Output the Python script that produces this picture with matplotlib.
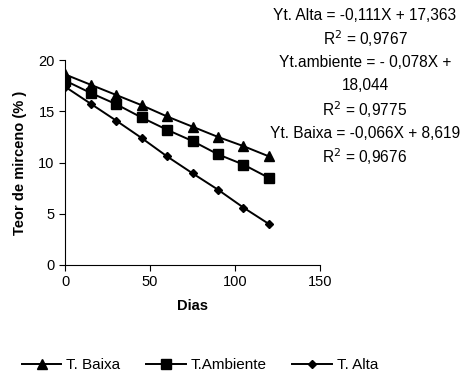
import matplotlib.pyplot as plt

plt.rcParams["font.family"] = ["Liberation Sans", "DejaVu Sans"]

dias = [0, 15, 30, 45, 60, 75, 90, 105, 120]
t_baixa = [18.6, 17.6, 16.6, 15.6, 14.5, 13.5, 12.5, 11.6, 10.6]
t_ambiente = [18.0, 16.8, 15.7, 14.4, 13.2, 12.1, 10.8, 9.8, 8.5]
t_alta = [17.4, 15.75, 14.1, 12.4, 10.6, 8.95, 7.35, 5.6, 4.0]

eq_lines = [
    "Yt. Alta = -0,111X + 17,363",
    "R$^2$ = 0,9767",
    "Yt.ambiente = - 0,078X +",
    "18,044",
    "R$^2$ = 0,9775",
    "Yt. Baixa = -0,066X + 8,619",
    "R$^2$ = 0,9676",
]

fig = plt.figure(figsize=(4.65, 3.78), dpi=100)
ax = fig.add_axes([0.140, 0.299, 0.548, 0.542])

ax.plot(dias, t_baixa, color="black", lw=1.4, marker="^", ms=7, label="T. Baixa")
ax.plot(dias, t_ambiente, color="black", lw=1.4, marker="s", ms=7, label="T.Ambiente")
ax.plot(dias, t_alta, color="black", lw=1.4, marker="D", ms=4, label="T. Alta")

ax.set_xlim(0, 150)
ax.set_ylim(0, 20)
ax.set_xticks([0, 50, 100, 150])
ax.set_yticks([0, 5, 10, 15, 20])
ax.spines["top"].set_visible(False)
ax.spines["right"].set_visible(False)
ax.tick_params(labelsize=10.5, length=4, direction="out")
ax.set_xlabel("Dias", fontsize=10.5, fontweight="bold", labelpad=7)
ax.set_ylabel("Teor de mirceno (% )", fontsize=10.5, fontweight="bold", labelpad=8)

for i, line in enumerate(eq_lines):
    fig.text(365 / 465, 1 - (15 + i * 23.6) / 378, line, ha="center", va="center", fontsize=11.2)

fig.legend(loc="center", bbox_to_anchor=(0.43, 1 - 365 / 378), ncol=3, frameon=False,
           fontsize=11, handlelength=2.6, columnspacing=1.7, handletextpad=0.3)

fig.savefig("out.png", dpi=100)
